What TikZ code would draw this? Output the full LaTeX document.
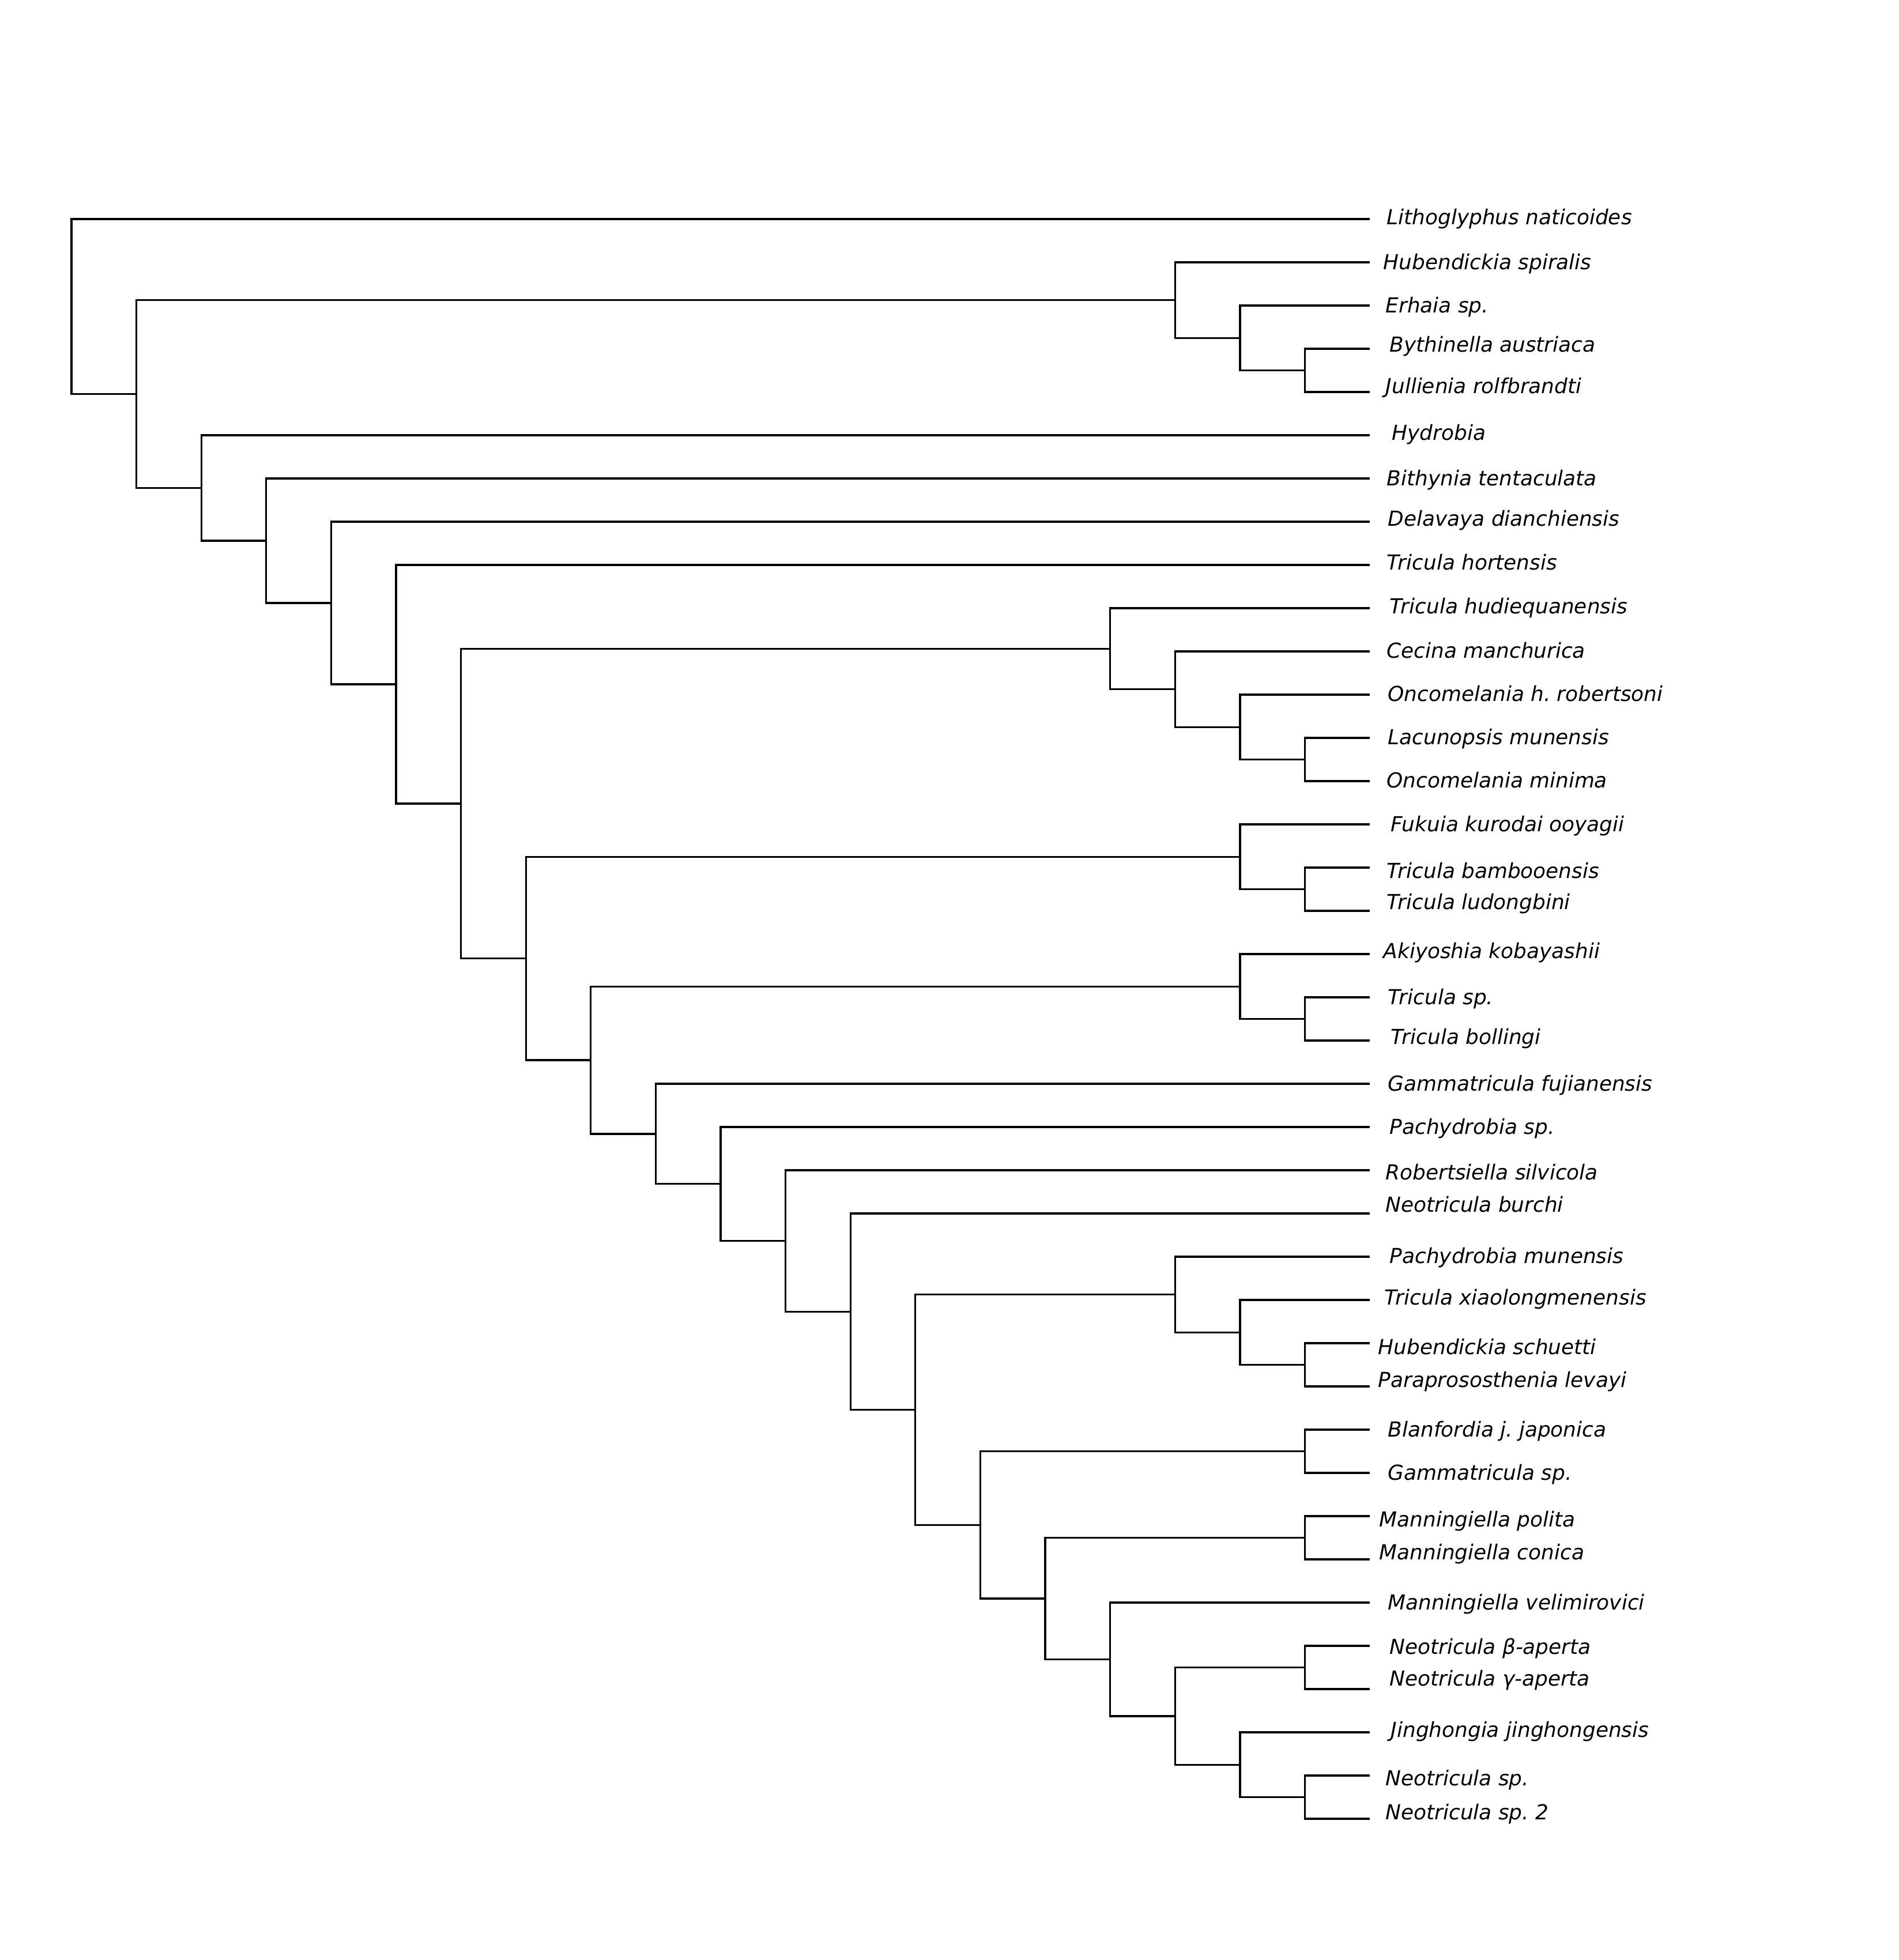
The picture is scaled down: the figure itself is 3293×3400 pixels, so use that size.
\documentclass[tikz,border=0pt]{standalone}
\usepackage{fontspec}
\newfontfamily\taxfont{DejaVu Sans Oblique}
\frenchspacing
\tikzset{
  br/.style={line width=0.95pt,black},
  taxon/.style={anchor=base west,inner sep=0pt,font=\taxfont\fontsize{10.2}{12}\selectfont}
}
\begin{document}
\begin{tikzpicture}[x=0.01cm,y=-0.01cm]
    \useasboundingbox (0,0) rectangle (3293,3400);
    % tips and taxon names
    \foreach \i/\dx/\dy/\name in {0/29/-3/Lithoglyphus naticoides, 1/23/0/Hubendickia spiralis,
        2/27/0/Erhaia sp., 3/34/-7/Bythinella austriaca, 4/27/-10/Jullienia rolfbrandti,
        5/38/-4/Hydrobia, 6/29/0/Bithynia tentaculata, 7/31/-5/Delavaya dianchiensis,
        8/29/-4/Tricula hortensis, 9/34/-3/Tricula hudiequanensis, 10/29/-1/Cecina manchurica,
        11/31/-1/Oncomelania h. robertsoni, 12/31/-1/Lacunopsis munensis, 13/29/-1/Oncomelania minima,
        14/36/0/Fukuia kurodai ooyagii, 15/29/6/Tricula bambooensis, 16/29/-15/Tricula ludongbini,
        17/23/-5/Akiyoshia kobayashii, 18/31/0/Tricula sp., 19/36/-6/Tricula bollingi,
        20/31/0/Gammatricula fujianensis, 21/34/0/Pachydrobia sp., 22/27/4/Robertsiella silvicola,
        23/27/-15/Neotricula burchi, 24/34/-1/Pachydrobia munensis, 25/25/-4/Tricula xiaolongmenensis,
        26/14/7/Hubendickia schuetti, 27/14/-11/Paraprososthenia levayi, 28/31/0/Blanfordia j. japonica,
        29/31/0/Gammatricula sp., 30/16/6/Manningiella polita, 31/16/-12/Manningiella conica,
        32/31/0/Manningiella velimirovici, 33/34/2/Neotricula β-aperta, 34/34/-18/Neotricula γ-aperta,
        35/36/-4/Jinghongia jinghongensis, 36/27/5/Neotricula sp., 37/27/-11/Neotricula sp. 2}
      {\coordinate (t\i) at (2376,{380+75*\i});
       \node[taxon] (s\i) at ({2376+\dx},{392+75*\i+\dy}) {\name};}
    % clades
    \coordinate (c0) at (124,531.8);     \coordinate (c1) at (236.6,683.6);
    \coordinate (c2) at (2038.2,520.6);  \coordinate (c3) at (2150.8,586.3);
    \coordinate (c4) at (2263.4,642.5);  \coordinate (c5) at (349.2,846.5);
    \coordinate (c6) at (461.8,938);     \coordinate (c7) at (574.4,1046);
    \coordinate (c8) at (687,1187);      \coordinate (c9) at (799.6,1394);
    \coordinate (c10) at (1925.6,1125.3); \coordinate (c11) at (2038.2,1195.6);
    \coordinate (c12) at (2150.8,1261.3); \coordinate (c13) at (2263.4,1317.5);
    \coordinate (c14) at (912.2,1662.7);  \coordinate (c15) at (2150.8,1486.3);
    \coordinate (c16) at (2263.4,1542.5); \coordinate (c17) at (1024.8,1839.1);
    \coordinate (c18) at (2150.8,1711.3); \coordinate (c19) at (2263.4,1767.5);
    \coordinate (c20) at (1137.4,1966.9); \coordinate (c21) at (1250,2053.8);
    \coordinate (c22) at (1362.6,2152.6); \coordinate (c23) at (1475.2,2275.2);
    \coordinate (c24) at (1587.8,2445.4); \coordinate (c25) at (2038.2,2245.6);
    \coordinate (c26) at (2150.8,2311.3); \coordinate (c27) at (2263.4,2367.5);
    \coordinate (c28) at (1700.4,2645.2); \coordinate (c29) at (2263.4,2517.5);
    \coordinate (c30) at (1813,2773);     \coordinate (c31) at (2263.4,2667.5);
    \coordinate (c32) at (1925.6,2878.4); \coordinate (c33) at (2038.2,2976.9);
    \coordinate (c34) at (2263.4,2892.5); \coordinate (c35) at (2150.8,3061.3);
    \coordinate (c36) at (2263.4,3117.5);
    \foreach \p/\c in {c0/t0, c0/c1, c1/c2, c1/c5, c2/t1, c2/c3, c3/t2, c3/c4, c4/t3, c4/t4,
        c5/t5, c5/c6, c6/t6, c6/c7, c7/t7, c7/c8, c8/t8, c8/c9, c9/c10, c9/c14,
        c10/t9, c10/c11, c11/t10, c11/c12, c12/t11, c12/c13, c13/t12, c13/t13,
        c14/c15, c14/c17, c15/t14, c15/c16, c16/t15, c16/t16, c17/c18, c17/c20,
        c18/t17, c18/c19, c19/t18, c19/t19, c20/t20, c20/c21, c21/t21, c21/c22,
        c22/t22, c22/c23, c23/t23, c23/c24, c24/c25, c24/c28, c25/t24, c25/c26,
        c26/t25, c26/c27, c27/t26, c27/t27, c28/c29, c28/c30, c29/t28, c29/t29,
        c30/c31, c30/c32, c31/t30, c31/t31, c32/t32, c32/c33, c33/c34, c33/c35,
        c34/t33, c34/t34, c35/t35, c35/c36, c36/t36, c36/t37}
      \draw[br] (\p) |- (\c);
\end{tikzpicture}
\end{document}
